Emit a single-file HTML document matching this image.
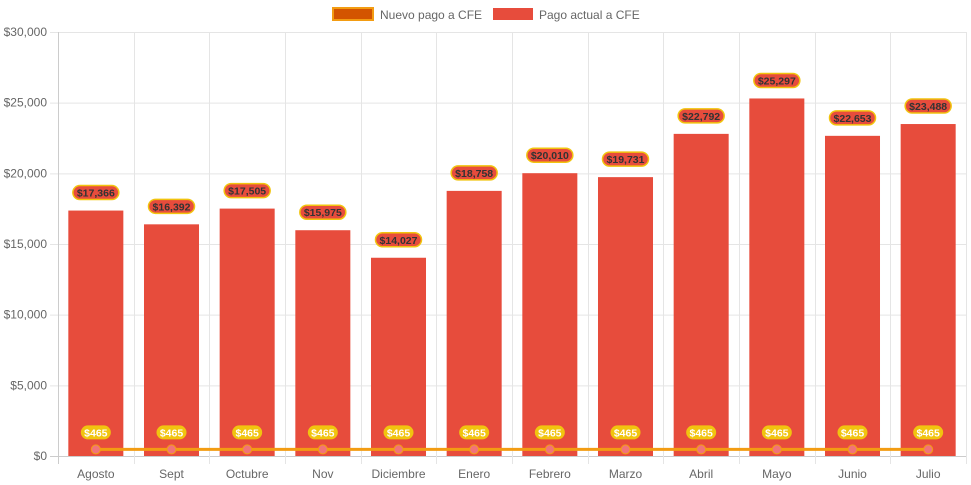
<!DOCTYPE html>
<html><head><meta charset="utf-8"><style>
html,body{margin:0;padding:0;background:#fff;}
svg{display:block;font-family:"Liberation Sans",Arial,sans-serif;}
</style></head><body>
<svg id="chart" width="971" height="485">
<g id="legend">
 <g>
  <rect x="333" y="8" width="40" height="12" fill="#d35400" stroke="#f39c12" stroke-width="2"/>
  <text x="380" y="19" font-size="12" fill="#666">Nuevo pago a CFE</text>
 </g>
 <g>
  <rect x="493" y="8" width="40" height="12" fill="#e74c3c"/>
  <text x="539" y="19" font-size="12" fill="#666">Pago actual a CFE</text>
 </g>
</g>
<g id="grid"></g>
<g id="bars"></g>
<g id="line"></g>
<g id="labels"></g>
</svg>
<script>
const categories=["Agosto","Sept","Octubre","Nov","Diciembre","Enero","Febrero","Marzo","Abril","Mayo","Junio","Julio"];
const actualValues=[17366,16392,17505,15975,14027,18758,20010,19731,22792,25297,22653,23488];
const nuevoValues=[465,465,465,465,465,465,465,465,465,465,465,465];
const yTicks=[0,5000,10000,15000,20000,25000,30000];
const yMax=30000;
const L=58,R=966,T=32,B=456;
const ns="http://www.w3.org/2000/svg";
const cw=(R-L)/categories.length;
const x=i=>L+cw*(i+0.5);
const y=v=>B-(v/yMax)*(B-T);
const fmt=v=>"$"+v.toLocaleString("en-US");
function mk(tag,attrs,parent,text){const e=document.createElementNS(ns,tag);for(const k in attrs)e.setAttribute(k,attrs[k]);if(text!==undefined)e.textContent=text;parent.appendChild(e);return e;}
const grid=document.getElementById("grid");
yTicks.forEach(t=>{
 const l=mk("line",{x1:L-8,x2:R,y1:y(t)+0.5,y2:y(t)+0.5,stroke:t===0?"#ccc":"#e5e5e5"},grid);
 
 
 const tx=mk("text",{x:L-11,y:y(t)+4,"text-anchor":"end","font-size":12,fill:"#666"},grid,fmt(t));
 
 
});
for(let i=0;i<=categories.length;i++){
 const gx=Math.round(L+cw*i)+0.5;
 const l=mk("line",{x1:gx,x2:gx,y1:T,y2:B+8,stroke:i===0?"#ccc":"#e5e5e5"},grid);
 
 
}
categories.forEach((c,i)=>{
 const tx=mk("text",{x:x(i),y:B+22,"text-anchor":"middle","font-size":12,fill:"#666"},grid,c);
 
 
});
const bars=document.getElementById("bars"),labels=document.getElementById("labels"),line=document.getElementById("line");
const bw=cw*0.727;
actualValues.forEach((v,i)=>{
 const r=mk("rect",{x:x(i)-bw/2,y:y(v),width:bw,height:B-y(v),fill:"#e74c3c"},bars);
 
 
 const g=mk("g",{},labels);
 
 
 const cy=y(v)-18,w=46;
 mk("rect",{x:x(i)-w/2,y:cy-7,width:w,height:14,rx:7,fill:"#e74c3c",stroke:"#f1c40f","stroke-width":1.5},g);
 mk("text",{x:x(i),y:cy+4,"text-anchor":"middle","font-size":10.5,"font-weight":"bold",fill:"#333"},g,fmt(v));
});
const pts=nuevoValues.map((v,i)=>x(i)+","+y(v)).join(" ");
const pl=mk("polyline",{points:pts,fill:"none",stroke:"#f39c12","stroke-width":3},line);


nuevoValues.forEach((v,i)=>{
 const c=mk("circle",{cx:x(i),cy:y(v),r:4.5,fill:"#f1737a",stroke:"#f39c12","stroke-width":1},line);
 
 
 const g=mk("g",{},labels);
 
 
 const cy=y(v)-17,w=30;
 mk("rect",{x:x(i)-w/2,y:cy-7,width:w,height:14,rx:7,fill:"#f1c40f"},g);
 mk("text",{x:x(i),y:cy+4,"text-anchor":"middle","font-size":10.5,"font-weight":"bold",fill:"#fff"},g,fmt(v));
});
</script>
</body></html>
